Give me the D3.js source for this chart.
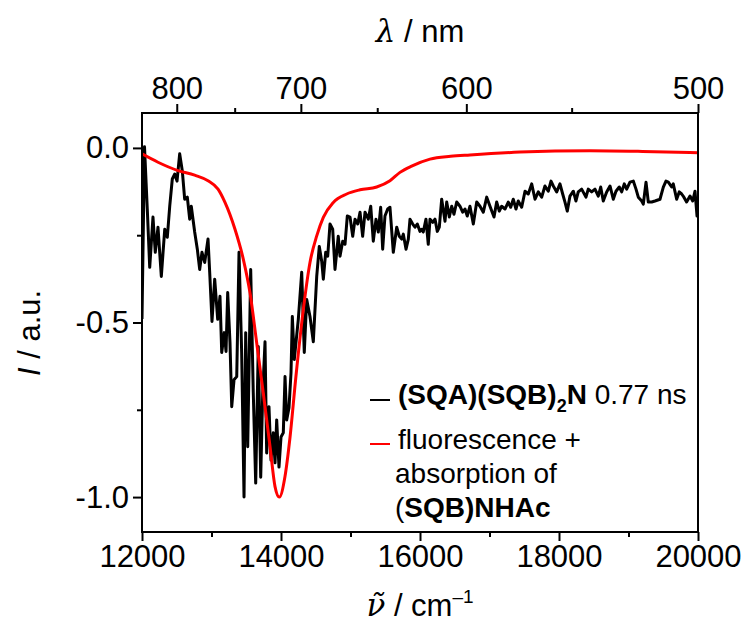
<!DOCTYPE html>
<html>
<head>
<meta charset="utf-8">
<script src="https://cdn.jsdelivr.net/npm/d3@7"></script>
<style>
  body { margin: 0; background: #fff; }
  svg { display: block; font-family: "Liberation Sans", Arial, sans-serif; }
</style>
</head>
<body>
<svg id="chart" width="748" height="634"></svg>
<script>
// wavenumber (cm-1) vs normalised intensity
const blackSeries = [
  [12000,-0.49],[12036,0.003],[12076,-0.175],[12111,-0.342],[12158,-0.198],[12191,-0.299],[12230,-0.227],[12278,-0.368],[12327,-0.233],[12364,-0.256],
  [12399,-0.167],[12436,-0.089],[12470,-0.075],[12504,-0.095],[12542,-0.017],[12580,-0.066],[12614,-0.147],[12652,-0.141],[12686,-0.204],[12709,-0.167],
  [12758,-0.241],[12796,-0.29],[12830,-0.348],[12863,-0.299],[12902,-0.328],[12950,-0.261],[12974,-0.356],[13007,-0.497],[13046,-0.376],[13089,-0.491],
  [13122,-0.425],[13147,-0.586],[13184,-0.529],[13209,-0.583],[13233,-0.414],[13266,-0.557],[13291,-0.741],[13324,-0.664],[13363,-0.655],[13396,-0.299],
  [13434,-0.586],[13468,-1.0],[13492,-0.529],[13521,-0.856],[13564,-0.348],[13601,-0.701],[13636,-0.96],[13673,-0.569],[13708,-0.943],[13737,-0.701],
  [13770,-0.555],[13794,-0.874],[13827,-0.741],[13856,-0.894],[13889,-0.816],[13914,-0.902],[13938,-0.779],[13971,-0.914],[14000,-0.828],[14033,-0.816],
  [14058,-0.655],[14082,-0.779],[14115,-0.744],[14144,-0.644],[14163,-0.483],[14191,-0.606],[14249,-0.491],[14298,-0.356],[14335,-0.586],[14370,-0.434],
  [14417,-0.483],[14465,-0.555],[14514,-0.368],[14551,-0.282],[14586,-0.325],[14609,-0.376],[14643,-0.299],[14672,-0.31],[14705,-0.218],[14744,-0.233],
  [14777,-0.348],[14824,-0.253],[14849,-0.31],[14888,-0.267],[14921,-0.276],[14954,-0.195],[14993,-0.198],[15032,-0.253],[15065,-0.204],[15104,-0.218],
  [15137,-0.184],[15175,-0.253],[15209,-0.184],[15256,-0.204],[15291,-0.167],[15328,-0.267],[15367,-0.204],[15400,-0.241],[15434,-0.17],[15463,-0.29],
  [15496,-0.195],[15535,-0.175],[15568,-0.17],[15616,-0.299],[15665,-0.227],[15702,-0.253],[15737,-0.261],[15760,-0.247],[15799,-0.29],[15832,-0.261],
  [15856,-0.204],[15895,-0.218],[15928,-0.227],[15961,-0.218],[16000,-0.239],[16024,-0.233],[16047,-0.241],[16086,-0.204],[16119,-0.276],[16144,-0.204],
  [16183,-0.213],[16216,-0.204],[16249,-0.239],[16278,-0.227],[16312,-0.147],[16360,-0.21],[16384,-0.155],[16422,-0.198],[16456,-0.167],[16489,-0.19],
  [16528,-0.155],[16575,-0.167],[16614,-0.184],[16647,-0.175],[16680,-0.195],[16719,-0.167],[16767,-0.218],[16816,-0.155],[16863,-0.167],[16911,-0.184],
  [16960,-0.141],[17007,-0.167],[17065,-0.198],[17103,-0.155],[17141,-0.181],[17175,-0.167],[17223,-0.175],[17270,-0.155],[17305,-0.17],[17342,-0.147],
  [17381,-0.175],[17414,-0.152],[17463,-0.17],[17511,-0.124],[17558,-0.132],[17607,-0.103],[17655,-0.147],[17702,-0.126],[17751,-0.141],[17798,-0.109],
  [17846,-0.124],[17885,-0.095],[17918,-0.109],[17967,-0.126],[18014,-0.103],[18053,-0.132],[18086,-0.155],[18119,-0.181],[18158,-0.138],[18206,-0.124],
  [18244,-0.152],[18277,-0.126],[18326,-0.118],[18388,-0.141],[18421,-0.118],[18470,-0.126],[18518,-0.118],[18565,-0.138],[18600,-0.112],[18637,-0.152],
  [18686,-0.126],[18734,-0.109],[18781,-0.147],[18820,-0.124],[18867,-0.112],[18902,-0.126],[18939,-0.103],[18974,-0.118],[19021,-0.098],[19069,-0.095],
  [19108,-0.118],[19141,-0.141],[19190,-0.152],[19213,-0.161],[19252,-0.098],[19285,-0.155],[19334,-0.155],[19381,-0.152],[19453,-0.147],[19501,-0.112],
  [19539,-0.095],[19573,-0.098],[19621,-0.112],[19644,-0.103],[19693,-0.147],[19730,-0.126],[19765,-0.132],[19797,-0.141],[19836,-0.155],[19885,-0.138],
  [19924,-0.152],[19957,-0.124],[19986,-0.195],[20000,-0.19]
]

const redSeries = [
  [12000,-0.017],[12230,-0.041],[12518,-0.065],[12758,-0.078],[12950,-0.094],[13094,-0.118],[13194,-0.156],[13338,-0.233],
  [13458,-0.319],[13554,-0.415],[13650,-0.558],[13745,-0.702],[13842,-0.855],[13914,-0.97],[13975,-1.0],[14058,-0.94],
  [14129,-0.83],[14215,-0.654],[14321,-0.463],[14417,-0.328],[14514,-0.252],[14609,-0.199],[14753,-0.156],[14945,-0.132],
  [15137,-0.12],[15377,-0.112],[15568,-0.094],[15712,-0.07],[15880,-0.052],[16144,-0.032],[16440,-0.024],[16719,-0.02],
  [17439,-0.012],[18446,-0.008],[19200,-0.01],[20000,-0.014]
]

const bottomTicks = [12000, 14000, 16000, 18000, 20000]
const bottomMinor = [13000, 15000, 17000, 19000]
const topTicks = [800, 700, 600, 500]   // nm
const topMinor = [750, 650, 550]
const leftTicks = [0.0, -0.5, -1.0]
const leftMinor = [-0.25, -0.75]

const svg = d3.select('#chart')
const pLeft = 142, pRight = 698, pTop = 113, pBottom = 532

const x = d3.scaleLinear().domain([12000, 20000]).range([pLeft, pRight])
const y = d3.scaleLinear().domain([-1.1, 0.1]).range([pBottom, pTop])

const fmt = d3.format('.1f')
const tickFont = 31

function styleAxis(g) {
  g.select('.domain').remove()
  g.selectAll('line').attr('stroke', '#000').attr('stroke-width', 2)
  g.selectAll('text').attr('font-size', tickFont).attr('fill', '#000')
    .attr('font-family', '"Liberation Sans", Arial, sans-serif')
}

// bottom axis
svg.append('g').attr('transform', `translate(0,${pBottom})`)
  .call(d3.axisBottom(x).tickValues(bottomTicks).tickFormat(d3.format('d')).tickSize(9).tickPadding(4))
  .call(styleAxis)
svg.append('g').attr('transform', `translate(0,${pBottom})`)
  .call(d3.axisBottom(x).tickValues(bottomMinor).tickFormat('').tickSize(5))
  .call(styleAxis)

// top axis (wavelength)
svg.append('g').attr('transform', `translate(0,${pTop})`)
  .call(d3.axisTop(x).tickValues(topTicks.map(d => 1e7 / d)).tickFormat(d => Math.round(1e7 / d)).tickSize(9).tickPadding(5))
  .call(styleAxis)
svg.append('g').attr('transform', `translate(0,${pTop})`)
  .call(d3.axisTop(x).tickValues(topMinor.map(d => 1e7 / d)).tickFormat('').tickSize(5))
  .call(styleAxis)

// left axis
svg.append('g').attr('transform', `translate(${pLeft},0)`)
  .call(d3.axisLeft(y).tickValues(leftTicks).tickFormat(d => fmt(d).replace('\u2212', '-')).tickSize(9).tickPadding(4))
  .call(styleAxis)
svg.append('g').attr('transform', `translate(${pLeft},0)`)
  .call(d3.axisLeft(y).tickValues(leftMinor).tickFormat('').tickSize(5))
  .call(styleAxis)

// curves, clipped to frame
svg.append('clipPath').attr('id', 'clip')
  .append('rect').attr('x', pLeft).attr('y', pTop).attr('width', pRight - pLeft).attr('height', pBottom - pTop)

const line = d3.line().x(d => x(d[0])).y(d => y(d[1]))

svg.append('path').datum(blackSeries)
  .attr('clip-path', 'url(#clip)')
  .attr('fill', 'none').attr('stroke', '#000').attr('stroke-width', 3)
  .attr('stroke-linejoin', 'round')
  .attr('d', line)

svg.append('path').datum(redSeries)
  .attr('clip-path', 'url(#clip)')
  .attr('fill', 'none').attr('stroke', '#ff0000').attr('stroke-width', 3)
  .attr('d', line.curve(d3.curveMonotoneX))

// frame
svg.append('rect').attr('x', pLeft).attr('y', pTop).attr('width', pRight - pLeft).attr('height', pBottom - pTop)
  .attr('fill', 'none').attr('stroke', '#000').attr('stroke-width', 2)

// axis titles
const topTitle = svg.append('text').attr('x', 420).attr('y', 42).attr('text-anchor', 'middle').attr('font-size', 31)
topTitle.append('tspan').attr('font-family', '"DejaVu Serif", serif').attr('font-style', 'italic').text('λ')
topTitle.append('tspan').text(' / nm')

const botTitle = svg.append('text').attr('x', 420).attr('y', 616).attr('text-anchor', 'middle').attr('font-size', 31)
botTitle.append('tspan').attr('font-family', '"DejaVu Serif", serif').attr('font-style', 'italic').text('\u03bd\u0303')
botTitle.append('tspan').text(' / cm')
botTitle.append('tspan').attr('font-size', 19).attr('dy', -13).text('\u20131')

const yTitle = svg.append('text').attr('transform', 'translate(40,333) rotate(-90)')
  .attr('text-anchor', 'middle').attr('font-size', 31)
yTitle.append('tspan').attr('font-style', 'italic').text('I')
yTitle.append('tspan').text(' / a.u.')

// legend
const legFont = 28
const leg = svg.append('g')
leg.append('line').attr('x1', 370).attr('x2', 390).attr('y1', 400).attr('y2', 400).attr('stroke', '#000').attr('stroke-width', 2)
leg.append('line').attr('x1', 370).attr('x2', 390).attr('y1', 444).attr('y2', 444).attr('stroke', '#ff0000').attr('stroke-width', 2)

const l1 = leg.append('text').attr('x', 398).attr('y', 404).attr('font-size', legFont)
l1.append('tspan').attr('font-weight', 'bold').text('(SQA)(SQB)')
l1.append('tspan').attr('font-weight', 'bold').attr('font-size', 18).attr('dy', 8).text('2')
l1.append('tspan').attr('font-weight', 'bold').attr('dy', -8).text('N')
l1.append('tspan').text(' 0.77 ns')

leg.append('text').attr('x', 398).attr('y', 449).attr('font-size', legFont).text('fluorescence +')
leg.append('text').attr('x', 395).attr('y', 483).attr('font-size', legFont).text('absorption of')
const l4 = leg.append('text').attr('x', 395).attr('y', 517).attr('font-size', legFont)
l4.append('tspan').text('(')
l4.append('tspan').attr('font-weight', 'bold').text('SQB)NHAc')
</script>
</body>
</html>
